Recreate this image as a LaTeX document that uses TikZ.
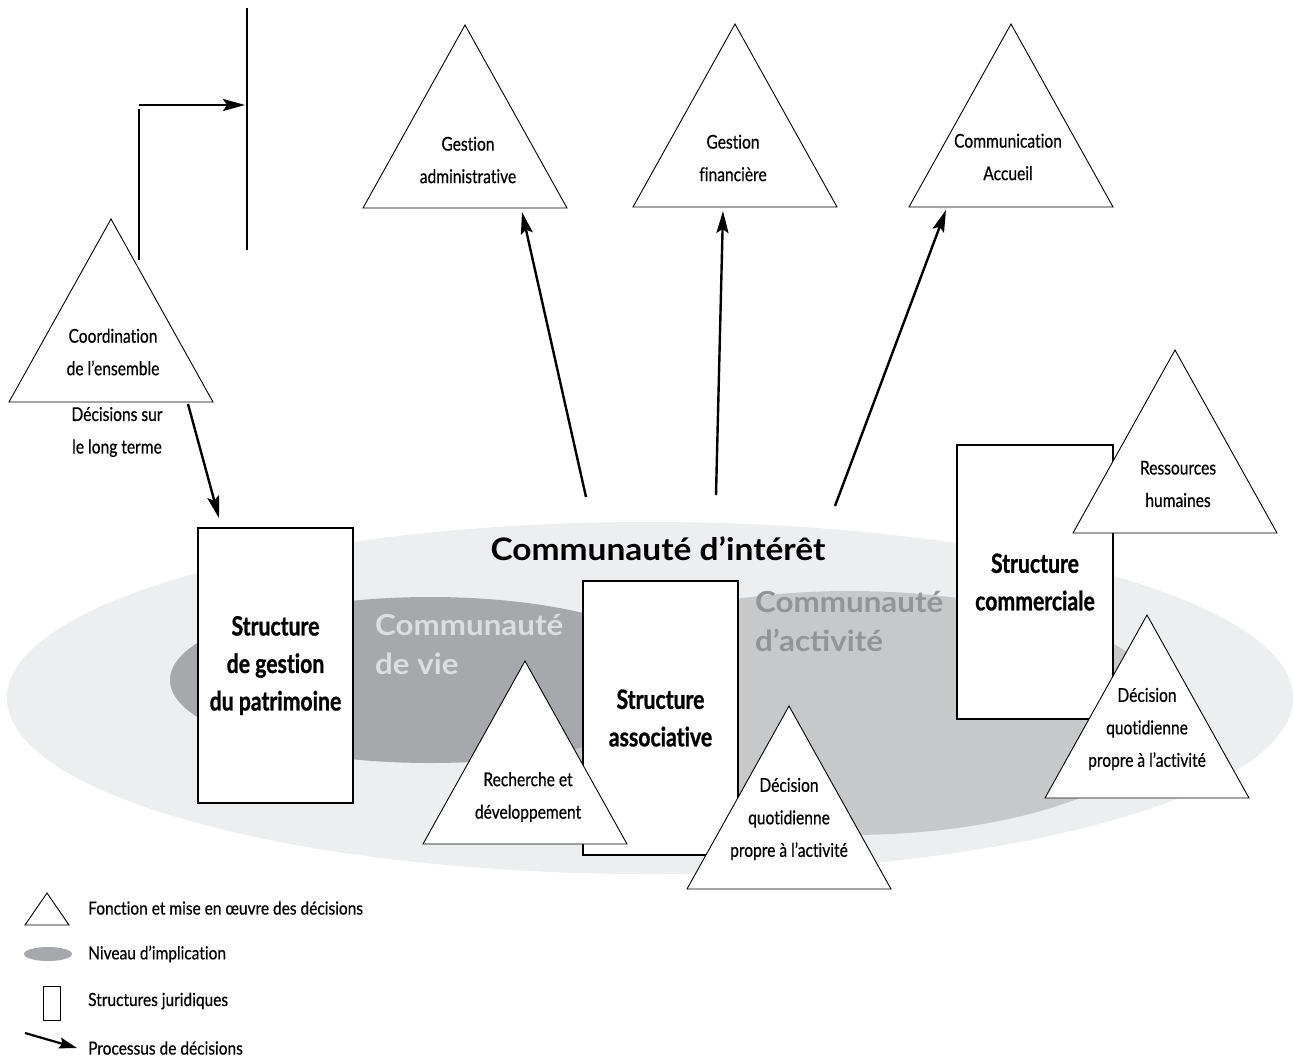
\documentclass[tikz,border=0pt]{standalone}
\usepackage{fontspec}
\usetikzlibrary{arrows.meta}
\newfontfamily\labfont[FakeStretch=0.82,FakeBold=0.5,Ligatures=NoCommon]{Lato}
\newfontfamily\structfont[FakeStretch=0.8,FakeBold=1,Ligatures=NoCommon]{Lato}
\newfontfamily\legfont[FakeStretch=0.86,FakeBold=0.5,Ligatures=NoCommon]{Lato}
\newfontfamily\commfont[FakeStretch=1.08]{Lato}
\definecolor{lightg}{HTML}{EDEEF0}
\definecolor{midg}{HTML}{C7C8CA}
\definecolor{darkg}{HTML}{A6A8AB}
\definecolor{vietxt}{HTML}{DCDDDE}
\definecolor{acttxt}{HTML}{929497}
\newcommand\mytri[3]{\draw[tri] (#2-102,#3) -- (#2,#3-183) -- (#2+102,#3) -- cycle;
  \coordinate (#1) at (#2,#3);}
\begin{document}
\begin{tikzpicture}[x=1pt,y=-1pt,
  tri/.style={draw=black,fill=white,line width=0.9pt,line join=miter},
  lbl/.style={font=\labfont\fontsize{19}{32.5}\selectfont,align=center,inner sep=0pt},
  struct/.style={draw=black,fill=white,line width=1.3pt,inner sep=0pt,
    font=\structfont\bfseries\fontsize{26.5}{37.5}\selectfont,align=center},
  flow/.style={line width=2.4pt,-{Stealth[length=22pt,width=12pt,inset=4pt]}},
  plain/.style={line width=2.4pt},
  commhead/.style={font=\commfont\bfseries\fontsize{29}{39}\selectfont,inner sep=0pt},
  legtxt/.style={font=\legfont\fontsize{18}{20}\selectfont,anchor=west,inner sep=0pt}]
\useasboundingbox (0,0) rectangle (1293,1061);
\fill[white] (0,0) rectangle (1293,1061);
% ellipses
\fill[lightg] (650,698) ellipse [x radius=643, y radius=176];
\fill[midg] (850,713) ellipse [x radius=320, y radius=122];
\fill[darkg] (430,680) ellipse [x radius=260, y radius=83];
\node[commhead,font=\commfont\bfseries\fontsize{31}{39}\selectfont] (ci) at (658,549) {Communauté d’intérêt};
\node[commhead,text=vietxt,align=left,anchor=north west] (cv) at (375,614) {Communauté\\de vie};
\node[commhead,text=acttxt,align=left,anchor=north west] (ca) at (755,591) {Communauté\\d’activité};
% structures
\node[struct,minimum width=155pt,minimum height=275pt] (sp) at (275.5,665.5) {Structure\\de gestion\\du patrimoine};
\node[struct,minimum width=155pt,minimum height=274pt] (sa) at (660.5,718) {Structure\\associative};
\node[struct,minimum width=156pt,minimum height=274pt] (sc) at (1035,582) {Structure\\commerciale};
% triangles
\mytri{tcoord}{111}{402}
\node[lbl] (lcoord) at (113,352) {Coordination\\de l’ensemble};
\node[lbl] (ldec) at (117,432) {Décisions sur\\le long terme};
\mytri{tga}{465}{208}
\node[lbl] (lga) at (468,160) {Gestion\\administrative};
\mytri{tgf}{735}{207}
\node[lbl] (lgf) at (733,158) {Gestion\\financière};
\mytri{tcom}{1011}{207}
\node[lbl] (lcom) at (1008,157) {Communication\\Accueil};
\mytri{trh}{1175}{533}
\node[lbl] (lrh) at (1178,484) {Ressources\\humaines};
\mytri{trd}{525}{844}
\node[lbl] (lrd) at (528,797) {Recherche et\\développement};
\mytri{tdq}{789}{889}
\node[lbl] (ldq) at (789,819) {Décision\\quotidienne\\propre à l’activité};
\mytri{tdq2}{1147}{798}
\node[lbl] (ldq2) at (1147,729) {Décision\\quotidienne\\propre à l’activité};
% top-left bar and bent arrow
\coordinate (barT) at (247,8);
\coordinate (barB) at (247,250);
\draw[plain] (barT) -- (barB);
\coordinate (bentS) at (139,260);
\coordinate (bentC) at (139,109);
\coordinate (bentH) at (139,105);
\coordinate (bentE) at (245,105);
\draw[plain] (bentS) -- (bentC);
\draw[flow] (bentH) -- (bentE);
% decision arrows
\coordinate (cs) at (188,404);
\coordinate (ce) at (219,518);
\draw[flow] (cs) -- (ce);
\coordinate (a1s) at (586,497);
\coordinate (a1e) at (522,212);
\draw[flow] (a1s) -- (a1e);
\coordinate (a2s) at (716,495);
\coordinate (a2e) at (723,211);
\draw[flow] (a2s) -- (a2e);
\coordinate (a3s) at (835,506);
\coordinate (a3e) at (946,210);
\draw[flow] (a3s) -- (a3e);
% legend
\draw[tri] (25,925) -- (47,893) -- (69,925) -- cycle;
\node[legtxt] (lg1) at (88,908) {Fonction et mise en œuvre des décisions};
\fill[darkg] (48,954) ellipse [x radius=24, y radius=7];
\node[legtxt] (lg2) at (88,954) {Niveau d’implication};
\node[draw=black,line width=1pt,minimum width=17pt,minimum height=34pt,inner sep=0pt] (lgr) at (51.5,1003) {};
\node[legtxt] (lg3) at (88,1001) {Structures juridiques};
\coordinate (lgas) at (25,1033);
\coordinate (lgae) at (77,1048);
\draw[line width=2.2pt,-{Stealth[length=18pt,width=11pt,inset=3pt]}] (lgas) -- (lgae);
\node[legtxt] (lg4) at (88,1048) {Processus de décisions};
\end{tikzpicture}
\end{document}
